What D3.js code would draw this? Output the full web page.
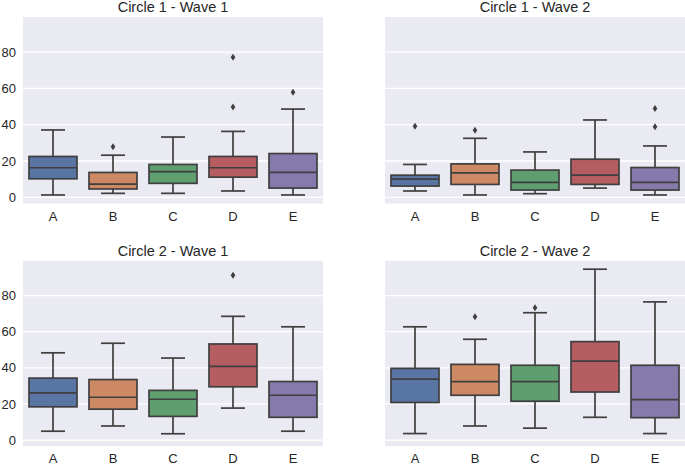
<!DOCTYPE html>
<html><head><meta charset="utf-8">
<script src="https://cdn.jsdelivr.net/npm/d3@7"></script>
<style>body{margin:0;background:#fff;}svg{display:block;font-family:"Liberation Sans",Arial,sans-serif;}</style>
</head><body><svg id="chart" width="685" height="465"></svg>
<script>
const categories = ["A","B","C","D","E"];
const panelTitles = ["Circle 1 - Wave 1","Circle 1 - Wave 2","Circle 2 - Wave 1","Circle 2 - Wave 2"];
const yTicks = [0,20,40,60,80];
const colors = ["#5875a4","#cc8963","#5f9e6e","#b55d60","#857aab"];
// [whiskerLow, Q1, median, Q3, whiskerHigh] per category
const c1w1Stats = [[1.3,10.2,16.3,22.5,37.1],[2.2,4.6,7.3,13.7,23.2],[2.2,7.7,14.1,18.1,33.2],[3.5,11.1,16.3,22.5,36.3],[1.3,5.1,13.7,24.1,48.6]];
const c1w1Outliers = [[],[27.9],[],[77.1,49.7],[57.9]];
const c1w2Stats = [[3.5,6.2,10.0,12.2,18.1],[1.3,7.1,13.5,18.4,32.5],[2.0,4.0,8.2,15.0,25.0],[5.1,7.1,12.2,21.0,42.6],[1.3,4.0,8.2,16.4,28.3]];
const c1w2Outliers = [[39.1],[36.9],[],[],[48.9,38.9]];
const c2w1Stats = [[4.9,18.4,26.1,34.3,48.3],[7.8,17.1,23.7,33.5,53.6],[3.5,13.1,22.6,27.5,45.4],[17.7,29.5,40.8,53.2,68.5],[4.9,12.6,24.8,32.4,62.7]];
const c2w1Outliers = [[],[],[],[91.3],[]];
const c2w2Stats = [[3.6,20.8,33.7,39.7,62.7],[7.8,24.8,32.4,41.9,55.8],[6.6,21.5,32.4,41.4,70.5],[12.6,26.6,43.7,54.5,94.6],[3.6,12.4,22.4,41.4,76.5]];
const c2w2Outliers = [[],[68.3],[73.3],[],[]];

const panelStats = [c1w1Stats,c1w2Stats,c2w1Stats,c2w2Stats];
const panelOutliers = [c1w1Outliers,c1w2Outliers,c2w1Outliers,c2w2Outliers];

const svg = d3.select("#chart");
const layout = [
  {x:23, y:17, w:300, h:186.5},
  {x:385, y:17, w:300, h:186.5, hideLabels:true},
  {x:23, y:260.7, w:300, h:185.5},
  {x:385, y:260.7, w:300, h:185.5, hideLabels:true}
];
const lineColor = "#3f3f3f";
const fontFam = '"Liberation Sans",Arial,sans-serif';

layout.forEach((L, pi) => {
  const g = svg.append("g").attr("transform", `translate(${L.x},${L.y})`);
  const x = d3.scaleBand().domain(categories).range([0, L.w]).padding(0);
  const y = d3.scaleLinear().domain([-3.4, 99.3]).range([L.h, 0]);
  g.append("rect").attr("width", L.w).attr("height", L.h).attr("fill", "#eaeaf2");
  g.selectAll("line.grid").data(yTicks).enter().append("line")
    .attr("x1",0).attr("x2",L.w).attr("y1",d=>y(d)).attr("y2",d=>y(d))
    .attr("stroke","#fff").attr("stroke-width",1.3);
  if (!L.hideLabels) {
    const ya = d3.axisLeft(y).tickValues(yTicks).tickSize(0).tickPadding(7);
    const ag = g.append("g").call(ya);
    ag.select(".domain").remove();
    ag.selectAll("text").attr("font-size", 13).attr("fill", "#262626").attr("font-family", fontFam);
  }
  const xa = d3.axisBottom(x).tickSize(0).tickPadding(8);
  const xg = g.append("g").attr("transform", `translate(0,${L.h})`).call(xa);
  xg.select(".domain").remove();
  xg.selectAll("text").attr("font-size", 13).attr("fill", "#262626").attr("font-family", fontFam);
  g.append("text").attr("x", L.w/2).attr("y", -5).attr("text-anchor","middle")
    .attr("font-size", 14.5).attr("fill", "#262626").attr("font-family", fontFam).text(panelTitles[pi]);

  const stats = panelStats[pi];
  const outs = panelOutliers[pi];
  const bw = x.bandwidth()*0.8;
  const sw = 1.7;
  categories.forEach((c, i) => {
    const s = stats[i];
    const cx = x(c) + x.bandwidth()/2;
    const bg = g.append("g");
    bg.append("line").attr("x1",cx).attr("x2",cx).attr("y1",y(s[0])).attr("y2",y(s[1]))
      .attr("stroke",lineColor).attr("stroke-width",sw);
    bg.append("line").attr("x1",cx).attr("x2",cx).attr("y1",y(s[3])).attr("y2",y(s[4]))
      .attr("stroke",lineColor).attr("stroke-width",sw);
    [s[0], s[4]].forEach(v => {
      bg.append("line").attr("x1",cx-bw/4).attr("x2",cx+bw/4).attr("y1",y(v)).attr("y2",y(v))
        .attr("stroke",lineColor).attr("stroke-width",sw);
    });
    bg.append("rect").attr("x",cx-bw/2).attr("width",bw)
      .attr("y",y(s[3])).attr("height",y(s[1])-y(s[3]))
      .attr("fill",colors[i]).attr("stroke",lineColor).attr("stroke-width",sw);
    bg.append("line").attr("x1",cx-bw/2).attr("x2",cx+bw/2).attr("y1",y(s[2])).attr("y2",y(s[2]))
      .attr("stroke",lineColor).attr("stroke-width",sw);
    outs[i].forEach(v => {
      const yy = y(v);
      bg.append("path").attr("d", `M${cx},${yy-3.5}L${cx+2.3},${yy}L${cx},${yy+3.5}L${cx-2.3},${yy}Z`)
        .attr("fill",lineColor);
    });
  });
});
</script></body></html>
